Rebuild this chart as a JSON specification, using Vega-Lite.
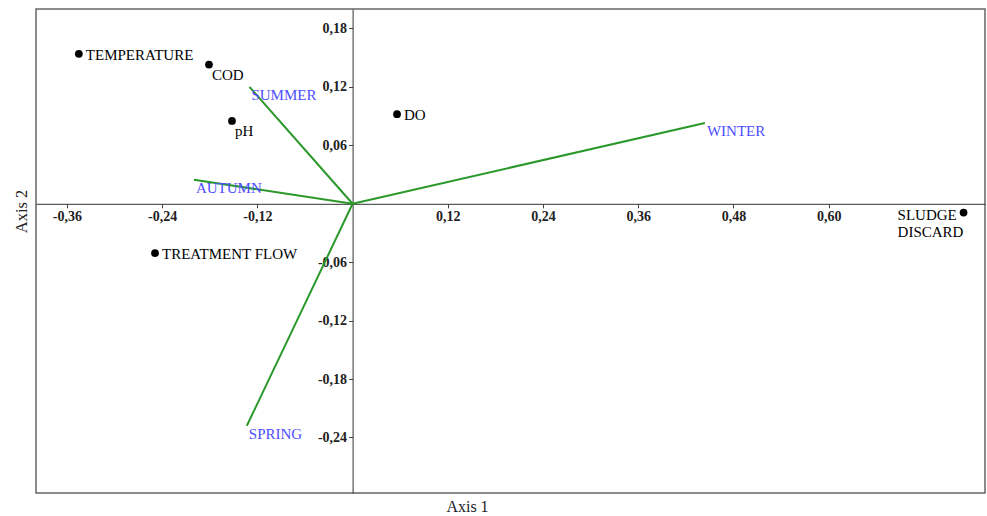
{
  "$schema": "https://vega.github.io/schema/vega-lite/v6.json",
  "width": 949,
  "height": 484,
  "autosize": {"type": "none"},
  "padding": {"left": 36, "top": 9, "right": 2, "bottom": 23},
  "background": "white",
  "config": {
    "locale": {"number": {"decimal": ",", "thousands": ".", "grouping": [3], "currency": ["", ""], "minus": "-"}},
    "view": {"stroke": "#666", "strokeWidth": 1.5},
    "text": {"font": "Liberation Serif", "fontSize": 15}
  },
  "datasets": {
    "seasons": [
      {"name": "SUMMER", "x": -0.130, "y": 0.120},
      {"name": "AUTUMN", "x": -0.200, "y": 0.0247},
      {"name": "SPRING", "x": -0.1333, "y": -0.228},
      {"name": "WINTER", "x": 0.444, "y": 0.083}
    ],
    "variables": [
      {"name": "TEMPERATURE", "x": -0.345, "y": 0.154},
      {"name": "COD", "x": -0.181, "y": 0.143},
      {"name": "pH", "x": -0.152, "y": 0.085},
      {"name": "DO", "x": 0.056, "y": 0.092},
      {"name": "TREATMENT FLOW", "x": -0.249, "y": -0.0507},
      {"name": "SLUDGE\nDISCARD", "x": 0.770, "y": -0.0090}
    ]
  },
  "encoding": {
    "x": {
      "field": "x", "type": "quantitative",
      "scale": {"domain": [-0.399, 0.797], "nice": false, "zero": false},
      "axis": {
        "orient": "bottom", "offset": -289.2,
        "values": [-0.36, -0.24, -0.12, 0.12, 0.24, 0.36, 0.48, 0.6],
        "format": ".2f", "grid": false,
        "labelFont": "Liberation Serif", "labelFontSize": 14, "labelFontWeight": "bold", "labelColor": "#222",
        "labelPadding": 2, "labelFlush": false, "labelOverlap": false,
        "tickSize": 4, "tickColor": "#444", "domainColor": "#333", "domainWidth": 1,
        "title": "Axis 1", "titleFont": "Liberation Serif", "titleFontSize": 16, "titleFontWeight": "normal", "titleColor": "#222",
        "titleX": 431, "titleY": 302.5, "titleAlign": "center", "titleBaseline": "middle"
      }
    },
    "y": {
      "field": "y", "type": "quantitative",
      "scale": {"domain": [-0.297, 0.2], "nice": false, "zero": false},
      "axis": {
        "orient": "left", "offset": -316.6,
        "values": [0.18, 0.12, 0.06, -0.06, -0.12, -0.18, -0.24],
        "format": ".2f", "grid": false,
        "labelFont": "Liberation Serif", "labelFontSize": 14, "labelFontWeight": "bold", "labelColor": "#222",
        "labelPadding": 2, "labelFlush": false, "labelOverlap": false,
        "tickSize": 4, "tickColor": "#444", "domainColor": "#333", "domainWidth": 1,
        "title": "Axis 2", "titleFont": "Liberation Serif", "titleFontSize": 16.5, "titleFontWeight": "normal", "titleColor": "#222",
        "titleX": -331, "titleY": 202, "titleAngle": -90, "titleAlign": "center", "titleBaseline": "middle"
      }
    }
  },
  "layer": [
    {
      "data": {"name": "seasons"},
      "mark": {"type": "rule", "color": "#2a982a", "strokeWidth": 2},
      "encoding": {"x2": {"datum": 0}, "y2": {"datum": 0}}
    },
    {
      "data": {"name": "seasons"},
      "mark": {"type": "text", "align": "left", "baseline": "middle", "dx": 2, "dy": 8, "color": "#4d4dff"},
      "encoding": {"text": {"field": "name"}}
    },
    {
      "data": {"name": "variables"},
      "mark": {"type": "point", "filled": true, "size": 60, "color": "black", "opacity": 1},
      "encoding": {}
    },
    {
      "data": {"name": "variables"},
      "transform": [{"filter": "datum.name === 'TEMPERATURE' || datum.name === 'DO' || datum.name === 'TREATMENT FLOW'"}],
      "mark": {"type": "text", "align": "left", "baseline": "middle", "dx": 7, "dy": 1, "color": "black"},
      "encoding": {"text": {"field": "name"}}
    },
    {
      "data": {"name": "variables"},
      "transform": [{"filter": "datum.name === 'COD' || datum.name === 'pH'"}],
      "mark": {"type": "text", "align": "left", "baseline": "middle", "dx": 3, "dy": 10, "color": "black"},
      "encoding": {"text": {"field": "name"}}
    },
    {
      "data": {"name": "variables"},
      "transform": [{"filter": "indexof(datum.name, 'SLUDGE') === 0"}],
      "mark": {"type": "text", "align": "left", "baseline": "top", "dx": -66, "dy": -5, "lineBreak": "\n", "lineHeight": 17.5, "color": "black"},
      "encoding": {"text": {"field": "name"}}
    }
  ]
}
